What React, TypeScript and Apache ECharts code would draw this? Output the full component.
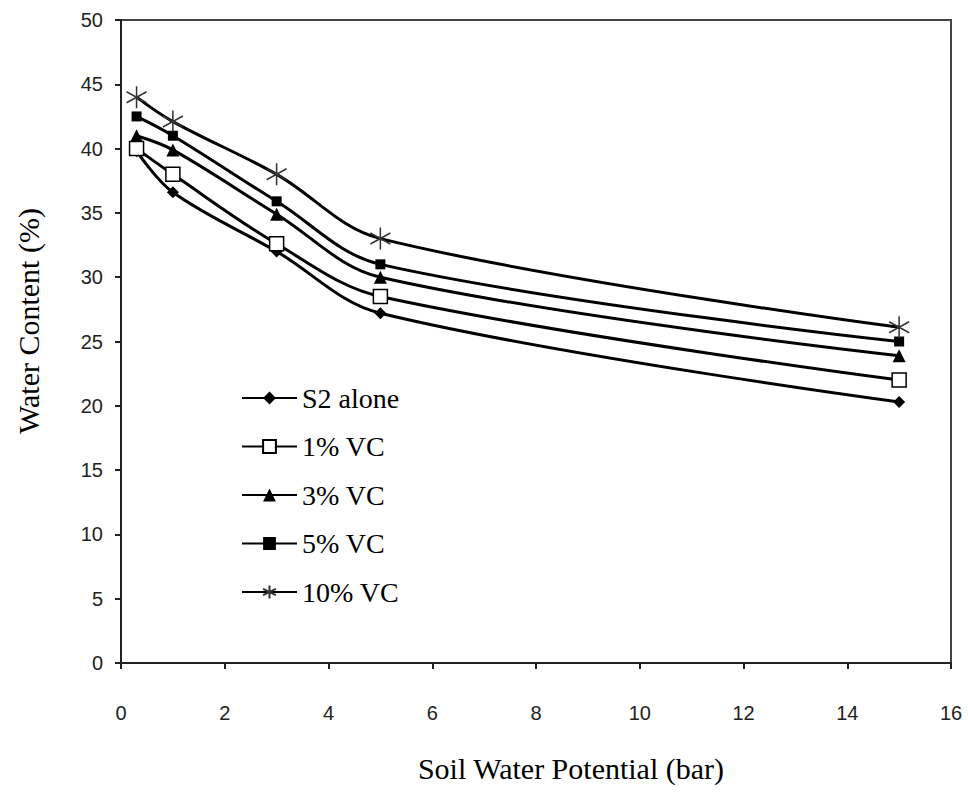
import React, { useEffect, useRef } from "react";
import * as echarts from "echarts";

const xValues = [0.3, 1, 3, 5, 15];
const s2Alone = [39.8, 36.6, 32.0, 27.2, 20.3];
const vc1 = [40.0, 38.0, 32.6, 28.5, 22.0];
const vc3 = [41.0, 39.9, 34.9, 30.0, 23.9];
const vc5 = [42.5, 41.0, 35.9, 31.0, 25.0];
const vc10 = [44.0, 42.1, 38.0, 33.0, 26.1];
const seriesNames = ["S2 alone", "1% VC", "3% VC", "5% VC", "10% VC"];
const xTitle = "Soil Water Potential (bar)";
const yTitle = "Water Content (%)";

const starPath = "path://M10,0L10,20M1.34,5L18.66,15M1.34,15L18.66,5";
const SERIF = "'Liberation Serif', 'Times New Roman', Times, serif";

export default function App() {
  const ref = useRef<HTMLDivElement>(null);
  useEffect(() => {
    document.body.style.margin = "0";
    const chart = echarts.init(ref.current!, null, { renderer: "svg" });
    const pair = (ys: number[]) => xValues.map((x, i) => [x, ys[i]]);
    const base = (name: string, ys: number[]) => ({
      name,
      type: "line",
      data: pair(ys),
      smooth: 0.35,
      lineStyle: { color: "#000", width: 3 },
      itemStyle: { color: "#000", borderColor: "#000", borderWidth: 0 },
      z: 3,
    });
    chart.setOption({
      animation: false,
      backgroundColor: "#fff",
      grid: {
        left: 121,
        right: 17,
        top: 20,
        bottom: 129,
        show: true,
        borderColor: "#444",
        borderWidth: 2,
      },
      graphic: [
        {
          type: "text",
          x: 571,
          y: 768,
          style: {
            text: xTitle,
            fontFamily: SERIF,
            fontSize: 30,
            fill: "#000",
            align: "center",
            verticalAlign: "middle",
          },
        },
        {
          type: "text",
          x: 28,
          y: 321,
          rotation: Math.PI / 2,
          style: {
            text: yTitle,
            fontFamily: SERIF,
            fontSize: 30,
            fill: "#000",
            align: "center",
            verticalAlign: "middle",
          },
        },
      ],
      legend: {
        left: 241,
        top: 384,
        orient: "vertical",
        itemWidth: 55,
        itemHeight: 16,
        itemGap: 20.5,
        padding: 0,
        data: seriesNames,
        textStyle: {
          fontFamily: SERIF,
          fontSize: 28,
          color: "#000",
        },
      },
      xAxis: {
        type: "value",
        min: 0,
        max: 16,
        interval: 2,
        axisLine: { show: true, lineStyle: { color: "#222", width: 2 } },
        axisTick: { show: true, length: 6, lineStyle: { color: "#222", width: 2 } },
        axisLabel: { margin: 40, fontFamily: "Liberation Sans", fontSize: 20, color: "#222" },
        splitLine: { show: false },
      },
      yAxis: {
        type: "value",
        min: 0,
        max: 50,
        interval: 5,
        axisLine: { show: true, lineStyle: { color: "#222", width: 2 } },
        axisTick: { show: true, length: 6, lineStyle: { color: "#222", width: 2 } },
        axisLabel: { margin: 18, fontFamily: "Liberation Sans", fontSize: 20, color: "#222" },
        splitLine: { show: false },
      },
      series: [
        { ...base(seriesNames[0], s2Alone), symbol: "diamond", symbolSize: 12 },
        {
          ...base(seriesNames[1], vc1),
          symbol: "rect",
          symbolSize: 14,
          itemStyle: { color: "#fff", borderColor: "#000", borderWidth: 1.5 },
          z: 4,
        },
        { ...base(seriesNames[2], vc3), symbol: "triangle", symbolSize: 13 },
        { ...base(seriesNames[3], vc5), symbol: "rect", symbolSize: 10 },
        {
          ...base(seriesNames[4], vc10),
          symbol: starPath,
          symbolSize: [20, 22],
          itemStyle: { color: "none", borderColor: "#333", borderWidth: 1.6 },
        },
      ],
    });
    return () => chart.dispose();
  }, []);
  return <div ref={ref} style={{ width: 968, height: 792 }} />;
}
